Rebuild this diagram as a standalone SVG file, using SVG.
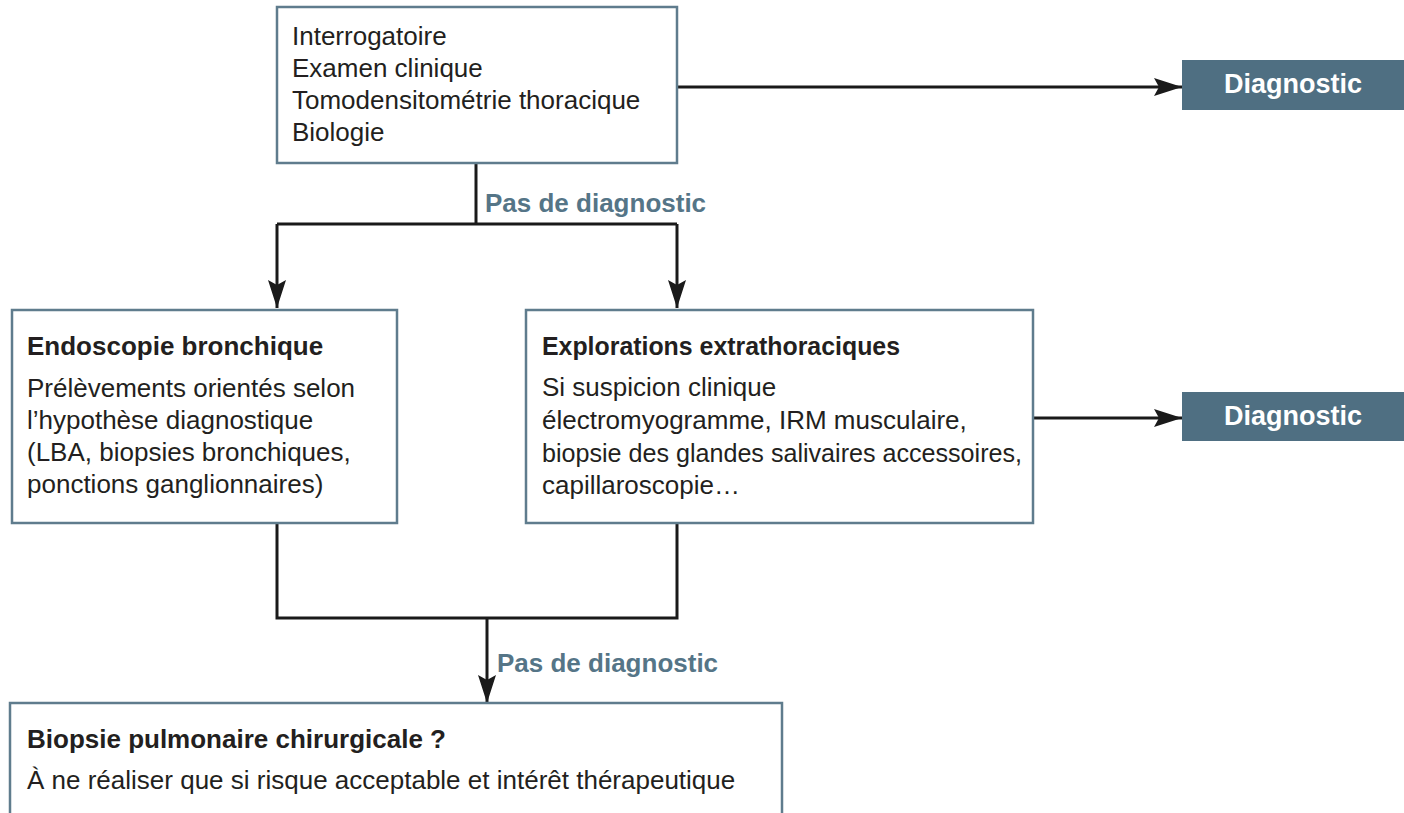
<svg xmlns="http://www.w3.org/2000/svg" width="1404" height="813" viewBox="0 0 1404 813">
<defs>
<style>
.box{fill:#ffffff;stroke:#5f7c8d;stroke-width:2.5}
.diag{fill:#4f6f82;stroke:none}
.t{font-family:"Liberation Sans",Arial,sans-serif;font-size:26px;fill:#231f20}
.b{font-family:"Liberation Sans",Arial,sans-serif;font-size:26px;font-weight:bold;fill:#231f20}
.w{font-family:"Liberation Sans",Arial,sans-serif;font-size:27px;font-weight:bold;fill:#ffffff}
.lbl{font-family:"Liberation Sans",Arial,sans-serif;font-size:26px;font-weight:bold;fill:#557587}
.c{fill:none;stroke:#1a1a1a;stroke-width:3}
</style>
<marker id="ah" markerUnits="userSpaceOnUse" markerWidth="30" markerHeight="20" refX="28" refY="9" orient="auto">
<path d="M0,0 L28,9 L0,18 L5,9 Z" fill="#1a1a1a"/>
</marker>
</defs>
<g id="connectors">
<line class="c" x1="677" y1="87" x2="1182" y2="87" marker-end="url(#ah)"/>
<polyline class="c" points="476,163 476,224"/>
<polyline class="c" points="277,224 677,224"/>
<line class="c" x1="277" y1="224" x2="277" y2="308" marker-end="url(#ah)"/>
<line class="c" x1="677" y1="224" x2="677" y2="308" marker-end="url(#ah)"/>
<line class="c" x1="1033" y1="418" x2="1182" y2="418" marker-end="url(#ah)"/>
<polyline class="c" points="277,523 277,618 677,618 677,523"/>
<line class="c" x1="487" y1="618" x2="487" y2="703" marker-end="url(#ah)"/>
<text class="lbl" x="485" y="212">Pas de diagnostic</text>
<text class="lbl" x="497" y="672">Pas de diagnostic</text>
</g>
<g id="n-initial">
<rect class="box" x="277" y="7" width="400" height="156"/>
<text class="t" x="292" y="45">Interrogatoire</text>
<text class="t" x="292" y="77">Examen clinique</text>
<text class="t" x="292" y="109">Tomodensitométrie thoracique</text>
<text class="t" x="292" y="141">Biologie</text>
</g>
<g id="n-diag1">
<rect class="diag" x="1182" y="60" width="222" height="50"/>
<text class="w" x="1293" y="93" text-anchor="middle">Diagnostic</text>
</g>
<g id="n-endo">
<rect class="box" x="12" y="310" width="385" height="213"/>
<text class="b" x="27" y="355">Endoscopie bronchique</text>
<text class="t" x="27" y="397">Prélèvements orientés selon</text>
<text class="t" x="27" y="429">l’hypothèse diagnostique</text>
<text class="t" x="27" y="461">(LBA, biopsies bronchiques,</text>
<text class="t" x="27" y="493">ponctions ganglionnaires)</text>
</g>
<g id="n-explo">
<rect class="box" x="526" y="310" width="507" height="213"/>
<text class="b" x="542" y="355" textLength="358" lengthAdjust="spacingAndGlyphs">Explorations extrathoraciques</text>
<text class="t" x="542" y="396">Si suspicion clinique</text>
<text class="t" x="542" y="429">électromyogramme, IRM musculaire,</text>
<text class="t" x="542" y="462" textLength="480" lengthAdjust="spacingAndGlyphs">biopsie des glandes salivaires accessoires,</text>
<text class="t" x="542" y="494">capillaroscopie…</text>
</g>
<g id="n-diag2">
<rect class="diag" x="1182" y="392" width="222" height="49"/>
<text class="w" x="1293" y="425" text-anchor="middle">Diagnostic</text>
</g>
<g id="n-biopsie">
<rect class="box" x="10" y="703" width="772" height="130"/>
<text class="b" x="27" y="748">Biopsie pulmonaire chirurgicale ?</text>
<text class="t" x="27" y="789">À ne réaliser que si risque acceptable et intérêt thérapeutique</text>
</g>
</svg>
